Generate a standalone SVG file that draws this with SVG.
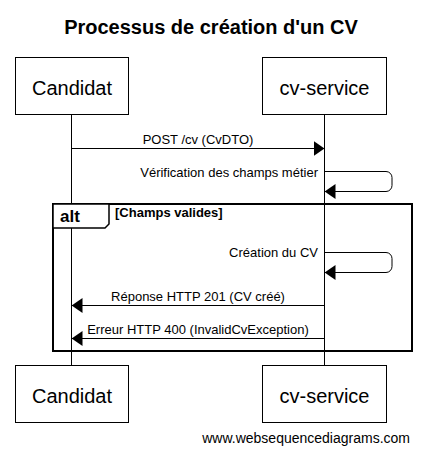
<svg xmlns="http://www.w3.org/2000/svg" width="421" height="456" viewBox="0 0 421 456">
<style>
.box{fill:#fff;stroke:#000;stroke-width:1}
.life{stroke:#000;stroke-width:1}
.msg{fill:none;stroke:#000;stroke-width:1}
.pt{font-family:"Liberation Sans",Arial,sans-serif;font-size:20px;fill:#000;text-anchor:middle}
.lbl{font-family:"Liberation Sans",Arial,sans-serif;font-size:13px;fill:#000}
.title{font-family:"Liberation Sans",Arial,sans-serif;font-size:20px;font-weight:bold;fill:#000;text-anchor:middle}
</style>
<defs>
<marker id="ah" viewBox="0 0 11 15" refX="11" refY="7.5" markerWidth="11" markerHeight="15" markerUnits="userSpaceOnUse" orient="auto">
<path d="M0,0 L11,7.5 L0,15 Z" fill="#000"/>
</marker>
</defs>
<rect width="421" height="456" fill="#fff"/>
<text class="title" x="211" y="34">Processus de création d'un CV</text>
<g id="lifelines">
<line class="life" x1="71.5" y1="114" x2="71.5" y2="365"/>
<line class="life" x1="324.5" y1="114" x2="324.5" y2="365"/>
</g>
<g id="alt-frame">
<rect x="53" y="204" width="359" height="147" fill="none" stroke="#000" stroke-width="2"/>
<path d="M53,204 L109,204 L109,224 L105,228 L53,228 Z" fill="#fff" stroke="#000" stroke-width="1.5"/>
<text x="60" y="222" font-family="Liberation Sans,Arial,sans-serif" font-size="17" font-weight="bold">alt</text>
<text x="115" y="217" font-family="Liberation Sans,Arial,sans-serif" font-size="13" font-weight="bold">[Champs valides]</text>
</g>
<g id="connectors">
<line class="msg" x1="71.5" y1="148.5" x2="324.5" y2="148.5" marker-end="url(#ah)"/>
<text class="lbl" x="198" y="143.5" text-anchor="middle">POST /cv (CvDTO)</text>
<path class="msg" d="M324.5,171.5 H386 A6,6 0 0 1 392,177.5 V185.5 A6,6 0 0 1 386,191.5 H324.5" marker-end="url(#ah)"/>
<text class="lbl" x="318" y="177" text-anchor="end">Vérification des champs métier</text>
<path class="msg" d="M324.5,252.5 H386 A6,6 0 0 1 392,258.5 V266.5 A6,6 0 0 1 386,272.5 H324.5" marker-end="url(#ah)"/>
<text class="lbl" x="318" y="257" text-anchor="end">Création du CV</text>
<line class="msg" x1="324.5" y1="305.5" x2="71.5" y2="305.5" marker-end="url(#ah)"/>
<text class="lbl" x="198" y="300.5" text-anchor="middle">Réponse HTTP 201 (CV créé)</text>
<line class="msg" x1="324.5" y1="338.5" x2="71.5" y2="338.5" marker-end="url(#ah)"/>
<text class="lbl" x="198" y="333.5" text-anchor="middle">Erreur HTTP 400 (InvalidCvException)</text>
</g>
<g id="candidat-top"><rect class="box" x="15.5" y="57.5" width="113" height="57"/><text class="pt" x="72" y="95">Candidat</text></g>
<g id="cvservice-top"><rect class="box" x="262.5" y="57.5" width="124" height="57"/><text class="pt" x="324.5" y="95">cv-service</text></g>
<g id="candidat-bottom"><rect class="box" x="15.5" y="365.5" width="113" height="57"/><text class="pt" x="72" y="403">Candidat</text></g>
<g id="cvservice-bottom"><rect class="box" x="262.5" y="365.5" width="124" height="57"/><text class="pt" x="324.5" y="403">cv-service</text></g>
<text x="410" y="443" font-family="Liberation Sans,Arial,sans-serif" font-size="14" text-anchor="end">www.websequencediagrams.com</text>
</svg>
